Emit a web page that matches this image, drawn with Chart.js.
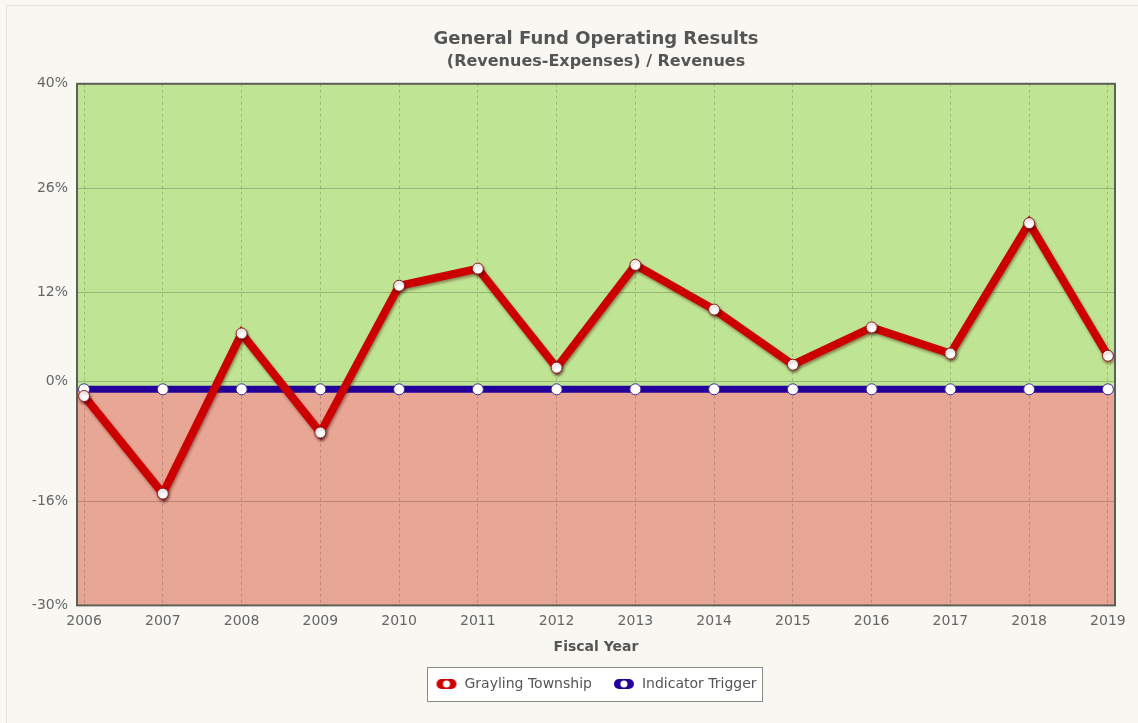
<!DOCTYPE html>
<html>
<head>
<meta charset="utf-8">
<script src="https://cdn.jsdelivr.net/npm/chart.js@4"></script>
<style>
  html, body { margin: 0; padding: 0; background: #f8f7f2; }
  #wrap { position: relative; width: 1138px; height: 723px; }
  #frame { position: absolute; left: 6px; top: 5px; right: -10px; bottom: -10px; border: 1px solid #e4e3dc; pointer-events: none; }
  canvas { display: block; }
</style>
</head>
<body>
<div id="wrap">
  <canvas id="c" width="1138" height="723"></canvas>
  <div id="frame"></div>
</div>
<script>
// ---- data ----
const years = [2006, 2007, 2008, 2009, 2010, 2011, 2012, 2013, 2014, 2015, 2016, 2017, 2018, 2019];
const grayling = [-1.9, -15.0, 6.5, -6.8, 12.9, 15.2, 1.9, 15.7, 9.7, 2.3, 7.3, 3.8, 21.3, 3.5];
const trigger = [-1, -1, -1, -1, -1, -1, -1, -1, -1, -1, -1, -1, -1, -1];
const yTicks = [-30, -16, 0, 12, 26, 40];
const seriesNames = ['Grayling Township', 'Indicator Trigger'];

const FONT = "'DejaVu Sans', Verdana, sans-serif";

function legendIcon(color) {
  const cv = document.createElement('canvas');
  cv.width = 22; cv.height = 12;
  const g = cv.getContext('2d');
  g.strokeStyle = color; g.lineWidth = 10; g.lineCap = 'round';
  g.beginPath(); g.moveTo(6, 6); g.lineTo(16, 6); g.stroke();
  g.fillStyle = '#ffffff';
  g.beginPath(); g.arc(11, 6, 3.5, 0, Math.PI * 2); g.fill();
  return cv;
}

const bgPlugin = {
  id: 'bgZones',
  afterLayout(chart) {
    // center title, subtitle and legend on the plot area
    const a = chart.chartArea;
    chart.boxes.forEach(b => {
      if (!(b instanceof Chart.Scale) && (b.position === 'top' || b.position === 'bottom')) {
        b.left = a.left;
        b.right = a.right;
        b.width = a.right - a.left;
      }
    });
  },
  beforeDraw(chart) {
    const { ctx, chartArea: a, scales: { y } } = chart;
    const split = y.getPixelForValue(trigger[0]);
    ctx.save();
    ctx.fillStyle = '#bfe594';
    ctx.fillRect(a.left, a.top, a.right - a.left, split - a.top);
    ctx.fillStyle = '#e8a694';
    ctx.fillRect(a.left, split, a.right - a.left, a.bottom - split);
    ctx.restore();
  },
  afterDraw(chart) {
    const { ctx, chartArea: a } = chart;
    ctx.save();
    ctx.strokeStyle = '#5f5f5a';
    ctx.lineWidth = 2;
    ctx.strokeRect(a.left, a.top, a.right - a.left, a.bottom - a.top);
    ctx.restore();
  }
};

const shadowPlugin = {
  id: 'lineShadow',
  beforeDatasetDraw(chart, args) {
    if (args.index === 0) {
      const ctx = chart.ctx;
      ctx.save();
      ctx.shadowColor = 'rgba(60,0,0,0.45)';
      ctx.shadowBlur = 3;
      ctx.shadowOffsetX = 1;
      ctx.shadowOffsetY = 2;
    }
  },
  afterDatasetDraw(chart, args) {
    if (args.index === 0) chart.ctx.restore();
  }
};

const legendBox = {
  id: 'legendBox',
  beforeDraw(chart) {
    const lg = chart.legend;
    if (!lg || !lg.legendHitBoxes || !lg.legendHitBoxes.length) return;
    const hb = lg.legendHitBoxes;
    let l = Infinity, r = -Infinity, t = Infinity, b = -Infinity;
    hb.forEach(h => { l = Math.min(l, h.left); r = Math.max(r, h.left + h.width); t = Math.min(t, h.top); b = Math.max(b, h.top + h.height); });
    const ctx = chart.ctx;
    ctx.save();
    ctx.fillStyle = '#ffffff';
    ctx.strokeStyle = '#8a8a8a';
    ctx.lineWidth = 1;
    const x = Math.round(l - 8) + 0.5, y = Math.round(t - 10) + 0.5;
    const w = Math.round(r - l + 14), h = Math.round(b - t + 20);
    ctx.fillRect(x, y, w, h);
    ctx.strokeRect(x, y, w, h);
    ctx.restore();
  }
};

new Chart(document.getElementById('c'), {
  type: 'line',
  data: {
    datasets: [
      {
        label: seriesNames[0],
        data: years.map((yr, i) => ({ x: yr, y: grayling[i] })),
        borderColor: '#cc0000',
        borderWidth: 8,
        pointRadius: 5.5,
        pointBackgroundColor: '#ffffff',
        pointBorderColor: '#8a2020',
        pointBorderWidth: 1,
        tension: 0,
        order: 1
      },
      {
        label: seriesNames[1],
        data: years.map((yr, i) => ({ x: yr, y: trigger[i] })),
        borderColor: '#24009b',
        borderWidth: 7,
        pointRadius: 5.5,
        pointBackgroundColor: '#ffffff',
        pointBorderColor: '#3a2a9a',
        pointBorderWidth: 1,
        tension: 0,
        order: 2
      }
    ]
  },
  options: {
    responsive: false,
    animation: false,
    layout: { padding: { left: 0, right: 23, top: 0, bottom: 22 } },
    scales: {
      x: {
        type: 'linear',
        min: years[0] - 0.09,
        max: years[years.length - 1] + 0.09,
        afterBuildTicks(axis) { axis.ticks = years.map(v => ({ value: v })); },
        ticks: { callback: v => String(v), color: '#666', font: { family: FONT, size: 14 }, padding: 8, maxRotation: 0, autoSkip: false },
        grid: { color: 'rgba(0,0,0,0.18)', drawTicks: false, lineWidth: 1 },
        border: { display: false, dash: [3, 3] },
        title: { display: true, text: 'Fiscal Year', color: '#555', font: { family: FONT, size: 14, weight: 'bold' }, padding: { top: 1, bottom: 0 } }
      },
      y: {
        min: -30,
        max: 40,
        afterBuildTicks(axis) { axis.ticks = yTicks.map(v => ({ value: v })); },
        afterFit(axis) { axis.width = 77; },
        ticks: { callback: v => v + '%', color: '#666', font: { family: FONT, size: 14 }, padding: 9 },
        grid: { color: 'rgba(0,0,0,0.2)', drawTicks: false },
        border: { display: false }
      }
    },
    plugins: {
      title: {
        display: true,
        text: 'General Fund Operating Results',
        color: '#555',
        font: { family: FONT, size: 18, weight: 'bold' },
        padding: { top: 29, bottom: 2 }
      },
      subtitle: {
        display: true,
        text: '(Revenues-Expenses) / Revenues',
        color: '#555',
        font: { family: FONT, size: 16, weight: 'bold' },
        padding: { top: 0, bottom: 12 }
      },
      legend: {
        position: 'bottom',
        labels: {
          usePointStyle: true,
          pointStyleWidth: 22,
          color: '#555',
          font: { family: FONT, size: 14 },
          padding: 21,
          generateLabels(chart) {
            return chart.data.datasets.map((ds, i) => ({
              text: ds.label,
              pointStyle: legendIcon(ds.borderColor),
              fontColor: '#555',
              hidden: false,
              datasetIndex: i,
              lineWidth: 0
            }));
          }
        }
      },
      tooltip: { enabled: false }
    }
  },
  plugins: [bgPlugin, shadowPlugin, legendBox]
});
</script>
</body>
</html>
